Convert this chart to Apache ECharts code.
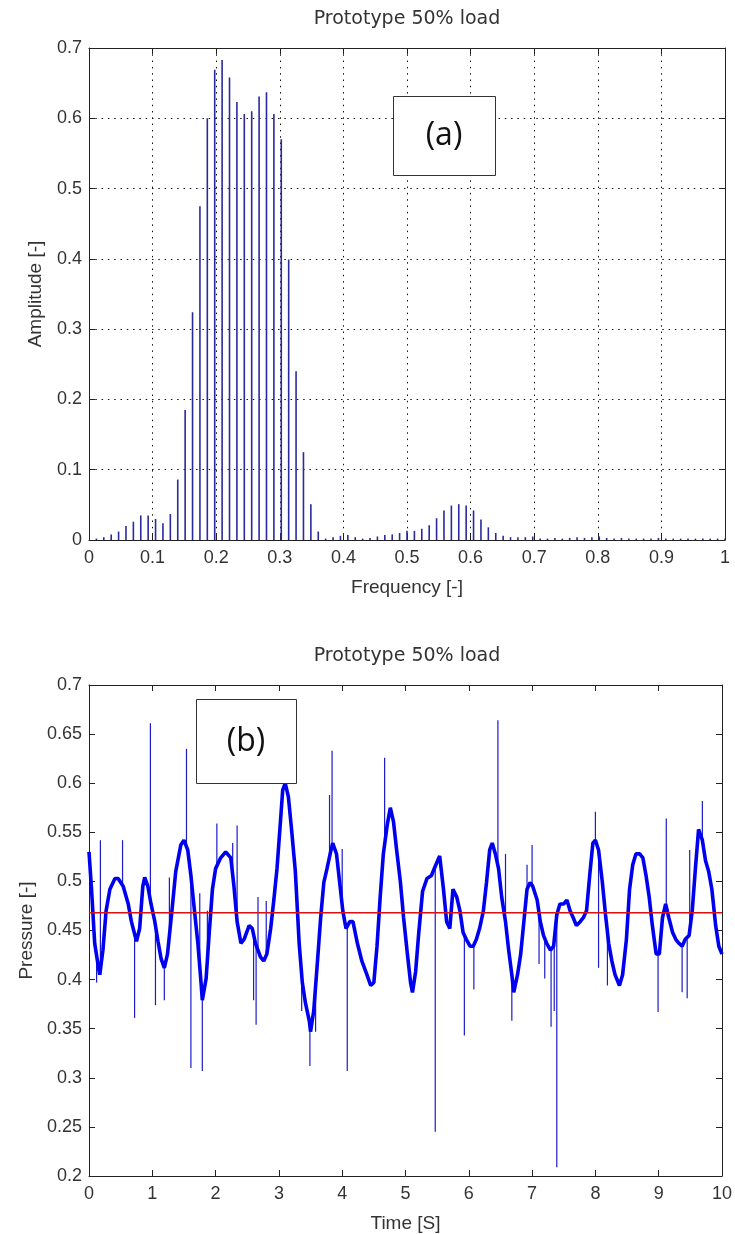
<!DOCTYPE html>
<html><head><meta charset="utf-8">
<script src="https://cdn.jsdelivr.net/npm/echarts@6/dist/echarts.min.js"></script>
<style>html,body{margin:0;padding:0;background:#fff}#c{width:735px;height:1234px}</style>
</head><body><div id="c"></div>
<script>
const chartTitle = 'Prototype 50% load';
// (a) spectrum: bin spacing and amplitudes for bins k = 1..86
const freqStep = 1 / 86;
const amplitudes = [
  0.002,0.004,0.008,0.012,0.020,0.026,0.035,0.035,0.030,0.024,
  0.037,0.086,0.185,0.324,0.475,0.600,0.669,0.683,0.658,0.623,
  0.606,0.610,0.631,0.637,0.606,0.570,0.399,0.240,0.125,0.051,
  0.012,0.002,0.004,0.006,0.007,0.004,0.002,0.003,0.005,0.007,
  0.008,0.010,0.013,0.013,0.016,0.021,0.031,0.042,0.049,0.051,
  0.049,0.042,0.029,0.018,0.010,0.006,0.004,0.004,0.004,0.005,
  0.002,0.002,0.003,0.002,0.003,0.004,0.003,0.004,0.005,0.003,
  0.002,0.003,0.002,0.002,0.002,0.002,0.003,0.002,0.002,0.002,
  0.002,0.002,0.002,0.002,0.002,0.002
];
const freqTicks = [0,0.1,0.2,0.3,0.4,0.5,0.6,0.7,0.8,0.9,1];
const ampTicks = [0,0.1,0.2,0.3,0.4,0.5,0.6,0.7];

// (b) pressure time trace
const timeS = [
  0.00,0.04,0.09,0.15,0.17,0.22,0.27,0.33,0.41,0.46,0.54,0.62,0.67,0.75,0.80,0.85,0.88,0.93,0.98,1.04,
  1.09,1.14,1.19,1.24,1.31,1.37,1.45,1.50,1.56,1.61,1.66,1.72,1.77,1.79,1.85,1.90,1.95,2.00,2.08,2.16,
  2.24,2.29,2.34,2.40,2.45,2.53,2.58,2.63,2.71,2.76,2.81,2.87,2.92,2.97,3.02,3.06,3.10,3.15,3.20,3.26,
  3.32,3.37,3.42,3.48,3.50,3.55,3.61,3.66,3.71,3.76,3.82,3.85,3.91,3.96,4.01,4.06,4.12,4.17,4.24,4.31,
  4.39,4.45,4.50,4.55,4.60,4.65,4.71,4.76,4.81,4.86,4.92,4.97,5.03,5.08,5.11,5.16,5.21,5.27,5.34,5.41,
  5.48,5.54,5.60,5.65,5.70,5.75,5.81,5.86,5.91,5.96,6.02,6.07,6.12,6.17,6.23,6.28,6.33,6.37,6.42,6.47,
  6.52,6.58,6.63,6.68,6.71,6.77,6.82,6.87,6.92,6.97,7.01,7.08,7.13,7.18,7.23,7.29,7.34,7.39,7.44,7.50,
  7.55,7.60,7.65,7.70,7.76,7.81,7.86,7.91,7.96,8.00,8.05,8.11,8.16,8.21,8.26,8.31,8.38,8.43,8.49,8.54,
  8.59,8.64,8.70,8.75,8.80,8.85,8.90,8.96,9.01,9.06,9.11,9.16,9.22,9.27,9.32,9.37,9.42,9.48,9.53,9.58,
  9.63,9.69,9.74,9.79,9.84,9.90,9.95,10.00
];
const pressure = [
  0.530,0.492,0.437,0.412,0.405,0.430,0.470,0.492,0.503,0.503,0.495,0.477,0.459,0.439,0.452,0.495,0.504,0.495,0.477,0.459,
  0.439,0.421,0.412,0.426,0.470,0.510,0.537,0.542,0.532,0.506,0.474,0.437,0.397,0.379,0.401,0.448,0.492,0.513,0.524,0.530,
  0.524,0.495,0.459,0.437,0.441,0.455,0.452,0.437,0.423,0.419,0.426,0.452,0.481,0.513,0.557,0.593,0.600,0.586,0.553,0.510,
  0.437,0.397,0.376,0.358,0.347,0.368,0.419,0.463,0.499,0.513,0.531,0.539,0.528,0.499,0.470,0.452,0.459,0.459,0.437,0.419,
  0.405,0.394,0.397,0.434,0.484,0.528,0.557,0.575,0.561,0.532,0.499,0.463,0.426,0.397,0.387,0.408,0.448,0.490,0.503,0.506,
  0.517,0.526,0.492,0.459,0.452,0.492,0.484,0.470,0.448,0.441,0.434,0.434,0.441,0.452,0.470,0.499,0.532,0.539,0.528,0.513,
  0.484,0.459,0.430,0.405,0.387,0.405,0.426,0.459,0.492,0.499,0.495,0.481,0.459,0.445,0.437,0.430,0.434,0.466,0.477,0.477,
  0.481,0.470,0.463,0.455,0.459,0.463,0.470,0.506,0.539,0.542,0.532,0.499,0.466,0.437,0.419,0.405,0.394,0.405,0.441,0.492,
  0.517,0.528,0.528,0.524,0.506,0.484,0.455,0.426,0.426,0.463,0.477,0.463,0.448,0.441,0.437,0.434,0.441,0.445,0.470,0.513,
  0.553,0.542,0.521,0.510,0.492,0.455,0.434,0.426
];
// single-sample spikes: time, value before, spike value
const spikeT    = [0.12,0.18,0.53,0.72,0.97,1.05,1.19,1.27,1.54,1.61,1.75,1.79,1.87,2.02,2.27,2.34,2.60,2.64,2.67,2.80,
                   3.36,3.49,3.58,3.80,3.84,4.00,4.08,4.67,5.47,5.93,6.08,6.46,6.58,6.68,6.92,7.00,7.11,7.20,7.30,7.35,
                   7.39,8.00,8.05,8.19,8.99,9.12,9.37,9.45,9.49,9.69];
const spikeFrom = [0.430,0.410,0.495,0.450,0.480,0.455,0.412,0.450,0.535,0.506,0.420,0.380,0.420,0.515,0.510,0.460,0.445,0.437,0.430,0.425,
                   0.400,0.355,0.390,0.525,0.538,0.472,0.455,0.540,0.515,0.445,0.434,0.515,0.460,0.405,0.490,0.495,0.470,0.440,0.430,0.434,
                   0.460,0.540,0.530,0.445,0.426,0.477,0.434,0.441,0.445,0.542];
const spikeTo   = [0.397,0.542,0.542,0.361,0.661,0.374,0.379,0.504,0.635,0.310,0.488,0.307,0.470,0.559,0.539,0.557,0.379,0.354,0.484,0.480,
                   0.368,0.312,0.347,0.588,0.633,0.533,0.307,0.626,0.245,0.343,0.390,0.664,0.528,0.358,0.517,0.537,0.416,0.401,0.352,0.368,
                   0.209,0.571,0.412,0.394,0.367,0.564,0.387,0.381,0.532,0.582];
const meanPressure = 0.468;
const timeTicks = [0,1,2,3,4,5,6,7,8,9,10];
const pressureTicks = [0.2,0.25,0.3,0.35,0.4,0.45,0.5,0.55,0.6,0.65,0.7];

const tickFont = 'Liberation Sans, Arial, sans-serif';
const titleFont = 'DejaVu Sans, Verdana, sans-serif';
const boxFont = 'Open Sans, Noto Sans, sans-serif';
const axisColor = '#222';

const specData = amplitudes.map((a, i) => [(i + 1) * freqStep, a]);
const traceData = timeS.map((t, i) => [t, pressure[i]]);
const spikeData = spikeT.map((t, i) => [t, spikeFrom[i], spikeTo[i]]);

function xAx(grid, min, max, interval, pos, name, grid2) {
  const main = pos === 'bottom';
  return {
    gridIndex: grid, type: 'value', min, max, interval, position: pos,
    axisLine: { show: true, onZero: false, lineStyle: { color: axisColor, width: 1 } },
    axisTick: { show: true, inside: true, length: 6, lineStyle: { color: axisColor } },
    axisLabel: { show: main, color: '#333', fontFamily: tickFont, fontSize: 18, margin: 9,
                 formatter: v => String(+v.toFixed(2)) },
    splitLine: { show: main && grid2, lineStyle: { color: '#111', width: 1, type: [1.5, 4.8] } },
    name: main ? name : '', nameLocation: 'middle', nameGap: 38,
    nameTextStyle: { fontFamily: tickFont, fontSize: 19, color: '#333' }
  };
}
function yAx(grid, min, max, interval, pos, name, grid2, gap) {
  const main = pos === 'left';
  return {
    gridIndex: grid, type: 'value', min, max, interval, position: pos,
    axisLine: { show: true, onZero: false, lineStyle: { color: axisColor, width: 1 } },
    axisTick: { show: true, inside: true, length: 6, lineStyle: { color: axisColor } },
    axisLabel: { show: main, color: '#333', fontFamily: tickFont, fontSize: 18, margin: 7,
                 formatter: v => String(+v.toFixed(2)) },
    splitLine: { show: main && grid2, lineStyle: { color: '#111', width: 1, type: [1.5, 4.8] } },
    name: main ? name : '', nameLocation: 'middle', nameGap: gap, nameRotate: 90,
    nameTextStyle: { fontFamily: tickFont, fontSize: 19, color: '#333' }
  };
}

const chart = echarts.init(document.getElementById('c'), null, { renderer: 'canvas' });
chart.setOption({
  animation: false,
  backgroundColor: '#fff',
  grid: [
    { left: 89, top: 48, width: 636, height: 492 },
    { left: 89, top: 685, width: 636, height: 492 }
  ],
  xAxis: [
    xAx(0, freqTicks[0], freqTicks[freqTicks.length - 1], 0.1, 'bottom', 'Frequency [-]', true),
    xAx(0, freqTicks[0], freqTicks[freqTicks.length - 1], 0.1, 'top', '', true),
    xAx(1, timeTicks[0], timeTicks[timeTicks.length - 1], 1, 'bottom', 'Time [S]', false),
    xAx(1, timeTicks[0], timeTicks[timeTicks.length - 1], 1, 'top', '', false)
  ],
  yAxis: [
    yAx(0, ampTicks[0], ampTicks[ampTicks.length - 1], 0.1, 'left', 'Amplitude [-]', true, 44),
    yAx(0, ampTicks[0], ampTicks[ampTicks.length - 1], 0.1, 'right', '', true, 0),
    yAx(1, pressureTicks[0], pressureTicks[pressureTicks.length - 1], 0.05, 'left', 'Pressure [-]', false, 52),
    yAx(1, pressureTicks[0], pressureTicks[pressureTicks.length - 1], 0.05, 'right', '', false, 0)
  ],
  graphic: [
    { type: 'text', x: 407, y: 19, style: { text: chartTitle, textAlign: 'center', textVerticalAlign: 'middle',
      font: '19px ' + titleFont, fill: '#333' } },
    { type: 'text', x: 407, y: 656, style: { text: chartTitle, textAlign: 'center', textVerticalAlign: 'middle',
      font: '19px ' + titleFont, fill: '#333' } },
    { type: 'rect', shape: { x: 393.5, y: 96.5, width: 102, height: 79 }, style: { fill: '#fff', stroke: '#333', lineWidth: 1 }, z: 100 },
    { type: 'text', x: 444, y: 136, style: { text: '(a)', textAlign: 'center', textVerticalAlign: 'middle',
      font: '32px ' + boxFont, fill: '#111' }, z: 101 },
    { type: 'rect', shape: { x: 196.5, y: 699.5, width: 100, height: 84 }, style: { fill: '#fff', stroke: '#333', lineWidth: 1 }, z: 100 },
    { type: 'text', x: 246, y: 742, style: { text: '(b)', textAlign: 'center', textVerticalAlign: 'middle',
      font: '32px ' + boxFont, fill: '#111' }, z: 101 }
  ],
  series: [
    { type: 'bar', xAxisIndex: 0, yAxisIndex: 0, data: specData, barWidth: 1.6,
      itemStyle: { color: '#2a2a9e' } },
    { type: 'line', xAxisIndex: 2, yAxisIndex: 2, data: traceData, showSymbol: false, symbol: 'none',
      lineStyle: { color: '#0000f0', width: 3.6 } },
    { type: 'custom', xAxisIndex: 2, yAxisIndex: 2, data: spikeData, encode: { x: 0, y: [1, 2] },
      renderItem: (params, api) => {
        const p1 = api.coord([api.value(0), api.value(1)]);
        const p2 = api.coord([api.value(0), api.value(2)]);
        return { type: 'line', shape: { x1: p1[0], y1: p1[1], x2: p2[0], y2: p2[1] },
                 style: { stroke: '#1c1ccc', lineWidth: 1.2 } };
      } },
    { type: 'line', xAxisIndex: 2, yAxisIndex: 2, data: [[timeTicks[0], meanPressure], [timeTicks[timeTicks.length - 1], meanPressure]],
      showSymbol: false, symbol: 'none', lineStyle: { color: '#e01010', width: 1.5 }, z: 5 }
  ]
});
</script></body></html>
